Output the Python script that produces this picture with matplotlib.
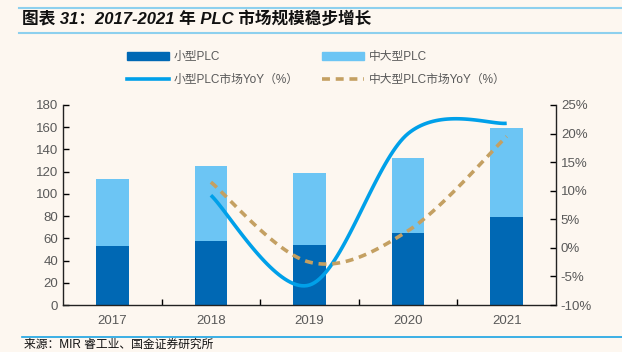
import numpy as np
import matplotlib
matplotlib.use('Agg')
import matplotlib.pyplot as plt
from matplotlib.lines import Line2D
from matplotlib.patches import Patch

plt.rcParams['font.family'] = ['Liberation Sans', 'Noto Sans CJK SC', 'DejaVu Sans']
plt.rcParams['axes.unicode_minus'] = False

years = ['2017', '2018', '2019', '2020', '2021']
small_plc = [53, 58, 54, 65, 79]
mid_large_plc = [60, 67, 65, 67, 80]
yoy_years = ['2018', '2019', '2020', '2021']
small_yoy = [9.2, -6.5, 20.0, 21.8]
mid_large_yoy = [11.5, -2.5, 3.0, 19.5]

bg = '#FDF7F0'
c_dark = '#0068B4'
c_light = '#6CC5F4'
c_line = '#00A0E9'
c_dash = '#C4A062'
c_text = '#595959'


def smooth(xs, ys, n=40):
    # Excel 风格的平滑曲线 (Catmull-Rom / Bezier)
    xs = np.asarray(xs, float)
    ys = np.asarray(ys, float)
    px = np.concatenate([[xs[0]], xs, [xs[-1]]])
    py = np.concatenate([[ys[0]], ys, [ys[-1]]])
    out_x, out_y = [], []
    t = np.linspace(0, 1, n)
    for i in range(1, len(px) - 2):
        p0 = np.array([px[i], py[i]])
        p3 = np.array([px[i + 1], py[i + 1]])
        b1 = p0 + (np.array([px[i + 1], py[i + 1]]) - np.array([px[i - 1], py[i - 1]])) / 6
        b2 = p3 - (np.array([px[i + 2], py[i + 2]]) - np.array([px[i], py[i]])) / 6
        pts = ((1 - t) ** 3)[:, None] * p0 + (3 * (1 - t) ** 2 * t)[:, None] * b1 \
            + (3 * (1 - t) * t ** 2)[:, None] * b2 + (t ** 3)[:, None] * p3
        out_x.extend(pts[:, 0])
        out_y.extend(pts[:, 1])
    return out_x, out_y


fig = plt.figure(figsize=(6.22, 3.52), dpi=100, facecolor=bg)
ax = fig.add_axes([63 / 622, 1 - 305 / 352, 493 / 622, 200 / 352])
ax.set_facecolor(bg)

x = np.arange(len(years))
ax.bar(x, small_plc, width=0.33, color=c_dark, zorder=2)
ax.bar(x, mid_large_plc, width=0.33, bottom=small_plc, color=c_light, zorder=2)
ax.set_xlim(-0.5, len(years) - 0.5)
ax.set_ylim(0, 180)
ax.set_yticks(range(0, 181, 20))
ax.set_xticks(x)
ax.set_xticklabels(years)
ax.set_xticks(np.arange(0.5, len(years) - 1, 1), minor=True)
ax.tick_params(axis='x', which='major', length=0, pad=7)
ax.tick_params(axis='x', which='minor', direction='in', length=4, width=1)
ax.tick_params(axis='y', direction='in', length=4, width=1)
ax.tick_params(labelsize=9.5, labelcolor=c_text)
ax.spines['top'].set_visible(False)
ax.spines['right'].set_visible(False)
for s in ['left', 'bottom']:
    ax.spines[s].set_color('#222222')
    ax.spines[s].set_linewidth(1)

ax2 = ax.twinx()
xi = [years.index(y) for y in yoy_years]
sx, sy = smooth(xi, small_yoy)
ax2.plot(sx, sy, color=c_line, lw=2.6, solid_capstyle='butt', zorder=3)
mx, my = smooth(xi, mid_large_yoy)
ax2.plot(mx, my, color=c_dash, lw=2.6, dashes=(2.2, 1.6), zorder=3)
ax2.set_ylim(-10, 25)
ax2.set_yticks(range(-10, 26, 5))
ax2.set_yticklabels([f'{v}%' for v in range(-10, 26, 5)])
ax2.tick_params(axis='y', direction='in', length=4, width=1, labelsize=9.5, labelcolor=c_text)
for s in ['top', 'left', 'bottom']:
    ax2.spines[s].set_visible(False)
ax2.spines['right'].set_color('#222222')
ax2.spines['right'].set_linewidth(1)

handles = [Patch(color=c_dark), Patch(color=c_light),
           Line2D([], [], color=c_line, lw=2.6),
           Line2D([], [], color=c_dash, lw=2.6, dashes=(2.2, 1.6))]
labels = ['小型PLC', '中大型PLC', '小型PLC市场YoY（%）', '中大型PLC市场YoY（%）']
fig.legend([handles[0], handles[2], handles[1], handles[3]],
           [labels[0], labels[2], labels[1], labels[3]],
           ncol=2, loc='center left', bbox_to_anchor=(116 / 622, 1 - 68.5 / 352),
           frameon=False, fontsize=8.5, labelcolor=c_text, handlelength=3.55,
           handleheight=0.55, columnspacing=2.0, labelspacing=0.9, handletextpad=0.4)

# 标题与分隔线
fig.add_artist(Line2D([19 / 622, 1], [1 - 7.5 / 352] * 2, color='#8DD0EE', lw=1.5))
fig.add_artist(Line2D([19 / 622, 1], [1 - 33 / 352] * 2, color='#8DD0EE', lw=1.5))
fig.text(22 / 622, 1 - 19 / 352, '图表 31：2017-2021 年 PLC 市场规模稳步增长',
         fontsize=12, fontweight='bold', style='italic', va='center', color='#111111')
fig.add_artist(Line2D([22 / 622, 1], [1 - 336.5 / 352] * 2, color='#1AA3E3', lw=1.2))
fig.text(24 / 622, 1 - 339 / 352, '来源：MIR 睿工业、国金证券研究所',
         fontsize=8.5, va='top', color='#111111')

fig.savefig('out.png', dpi=100, facecolor=bg)
